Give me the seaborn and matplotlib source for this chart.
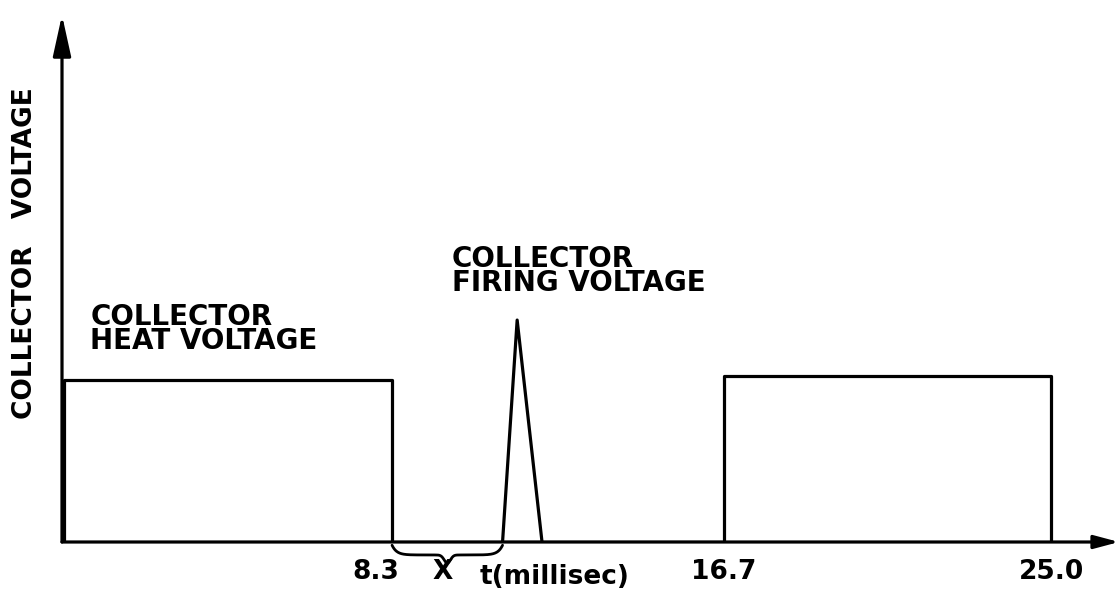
import numpy as np
import pandas as pd
import matplotlib
matplotlib.use("Agg")
import matplotlib.pyplot as plt
import matplotlib.transforms as mtransforms
import seaborn as sns

# ---- data ----
heat_t = [0.0, 0.0, 8.3, 8.3, 16.7, 16.7, 25.0, 25.0]
heat_v = [0.0, 1.0, 1.0, 0.0, 0.0, 1.025, 1.025, 0.0]
fire_t = [11.1, 11.47, 12.1]
fire_v = [0.0, 1.37, 0.0]
tick_pos = [8.3, 16.7, 25.0]
tick_labels = ["8.3", "16.7", "25.0"]
gap_start = 8.3          # start of brace "X"
gap_end = 11.1           # spike start

sns.set_theme(style="white")
plt.rcParams["font.family"] = ["DejaVu Sans"]
plt.rcParams["text.color"] = "black"
plt.rcParams["axes.labelcolor"] = "black"
plt.rcParams["xtick.color"] = "black"

fig = plt.figure(figsize=(11.19, 5.99), dpi=100)
ax = fig.add_axes([62 / 1119, 57 / 599, 1057 / 1119, 527 / 599])

heat = pd.DataFrame({"t": heat_t, "v": heat_v})
fire = pd.DataFrame({"t": fire_t, "v": fire_v})
sns.lineplot(data=heat, x="t", y="v", sort=False, estimator=None,
             color="black", lw=2.3, ax=ax)
sns.lineplot(data=fire, x="t", y="v", sort=False, estimator=None,
             color="black", lw=2.3, ax=ax)

ax.set_xlim(-0.063, 26.72)
ax.set_ylim(0, 3.253)
for s in ax.spines.values():
    s.set_visible(False)

# axes with arrows
ax.annotate("", xy=(0, 1), xytext=(0, 0), xycoords="axes fraction",
            arrowprops=dict(arrowstyle="-|>,head_length=25,head_width=5.5",
                            mutation_scale=1, color="black", lw=2.3,
                            shrinkA=0, shrinkB=0), annotation_clip=False)
ax.annotate("", xy=(1, 0), xytext=(0, 0), xycoords="axes fraction",
            arrowprops=dict(arrowstyle="-|>,head_length=15,head_width=4",
                            mutation_scale=1, color="black", lw=2.3,
                            shrinkA=0, shrinkB=0), annotation_clip=False)

ax.set_yticks([])
ax.set_xticks(tick_pos)
ax.set_xticklabels(tick_labels, fontsize=19, fontweight="bold")
ax.tick_params(axis="x", length=0, pad=12)
first = ax.get_xticklabels()[0]
first.set_horizontalalignment("right")
first.set_transform(first.get_transform() +
                    mtransforms.ScaledTranslation(0.07, 0, fig.dpi_scale_trans))
ax.set_xlabel("")
ax.set_ylabel("COLLECTOR   VOLTAGE", fontsize=19, fontweight="bold")
ax.yaxis.set_label_coords(-0.023, 0.548)

txt = dict(fontsize=20, fontweight="bold", color="black", linespacing=0.8)
ax.text(0.65, 1.475, "COLLECTOR\nHEAT VOLTAGE", ha="left", va="top", **txt)
ax.text(9.82, 1.833, "COLLECTOR\nFIRING VOLTAGE", ha="left", va="top", **txt)
ax.text(9.59, -0.185, "X", ha="center", va="center", fontsize=19,
        fontweight="bold", clip_on=False)
ax.text(10.53, -0.216, "t(millisec)", ha="left", va="center", fontsize=19,
        fontweight="bold", clip_on=False)

# curly brace under the gap
s = np.linspace(0, 1, 200)
half = np.where(s < 0.5, s * 2, (1 - s) * 2)
depth = 0.06 * (1 - np.exp(-half * 12)) + 0.05 * np.exp(-((s - 0.5) / 0.04) ** 2)
bx = gap_start + s * (gap_end - gap_start)
ax.plot(bx, -0.02 - depth, color="black", lw=2.0, clip_on=False)

fig.savefig("out.png", dpi=100)
